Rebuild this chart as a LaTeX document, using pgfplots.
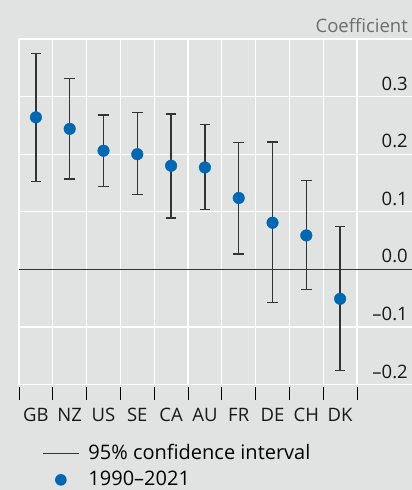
\documentclass[border=0pt]{standalone}
\usepackage{fontspec}
\setmainfont{Open Sans}
\usepackage{pgfplots}
\pgfplotsset{compat=1.18}
\definecolor{bg}{HTML}{E1E2E2}
\definecolor{bisblue}{HTML}{0067B1}
\definecolor{dark}{HTML}{333333}
\definecolor{labgrey}{HTML}{6E6E6E}

\pgfplotstableread{
x y ep em
0 0.264 0.111 0.111
1 0.244 0.087 0.087
2 0.206 0.062 0.062
3 0.200 0.072 0.070
4 0.180 0.090 0.091
5 0.177 0.074 0.073
6 0.124 0.096 0.097
7 0.081 0.140 0.139
8 0.059 0.095 0.094
9 -0.051 0.125 0.125
}\coef

\begin{document}
\fontsize{18.5bp}{22bp}\selectfont
\begin{tikzpicture}
\path[use as bounding box, fill=bg] (0bp,0bp) rectangle (412bp,-490bp);
\node[anchor=base east, text=labgrey, inner sep=0pt] at (408bp,-32.5bp) {Coefficient};
\begin{axis}[
  at={(19bp,-39bp)}, anchor=north west,
  scale only axis, width=393bp, height=345.6bp,
  xmin=-0.5, xmax=11.127, ymin=-0.2, ymax=0.4,
  axis line style={draw=none},
  xtick={0,...,9}, xticklabels={GB,NZ,US,SE,CA,AU,FR,DE,CH,DK},
  minor xtick={-0.5,0.5,...,9.5},
  xminorgrids,
  minor grid style={white, line width=1.3bp},
  major grid style={white, line width=1.3bp},
  ytick={-0.2,-0.1,0,0.1,0.2,0.3,0.4},
  yticklabels={–0.2,–0.1,0.0,0.1,0.2,0.3,{}},
  ymajorgrids,
  xtick pos=bottom, ytick pos=right,
  yticklabel pos=right,
  major tick length=0pt,
  minor tick length=13bp,
  tick align=outside,
  minor x tick style={black, line width=0.8bp, yshift=-2bp},
  yticklabel style={anchor=south east, inner sep=0pt, xshift=-4bp, yshift=6bp},
  xticklabel style={yshift=-17bp},
  ticklabel style={font=\fontsize{18.5bp}{22bp}\selectfont, text=black!90},
  legend style={at={(axis description cs:0.0585,-0.166)}, anchor=north west,
    draw=none, fill=none, font=\fontsize{20bp}{24bp}\selectfont,
    row sep=5bp, inner sep=0pt, column sep=7bp},
  legend cell align=left,
]
\addplot[dark, line width=1.5bp, forget plot] coordinates {(-0.5,0) (11.127,0)};
\addplot[draw=none, mark=none, forget plot,
  error bars/.cd, y dir=both, y explicit,
  error bar style={draw=dark, line width=1.3bp},
  error mark options={draw=dark, line width=1.3bp, mark size=5.3bp, rotate=90}]
  table[x=x, y=y, y error plus=ep, y error minus=em] {\coef};
\addlegendimage{legend image code/.code={\draw[dark, line width=1.3bp] (0bp,0bp) -- (36bp,0bp);}}
\addlegendentry{95\% confidence interval}
\addplot[only marks, mark=*, mark size=5.8bp, color=bisblue, mark options={draw=none, fill=bisblue},
  legend image code/.code={\path[draw=none] (0bp,0bp) -- (36bp,0bp); \fill[bisblue, draw=none] (18bp,0bp) circle (5.8bp);}]
  table[x=x, y=y] {\coef};
\addlegendentry{1990–2021}
\end{axis}
\end{tikzpicture}
\end{document}
